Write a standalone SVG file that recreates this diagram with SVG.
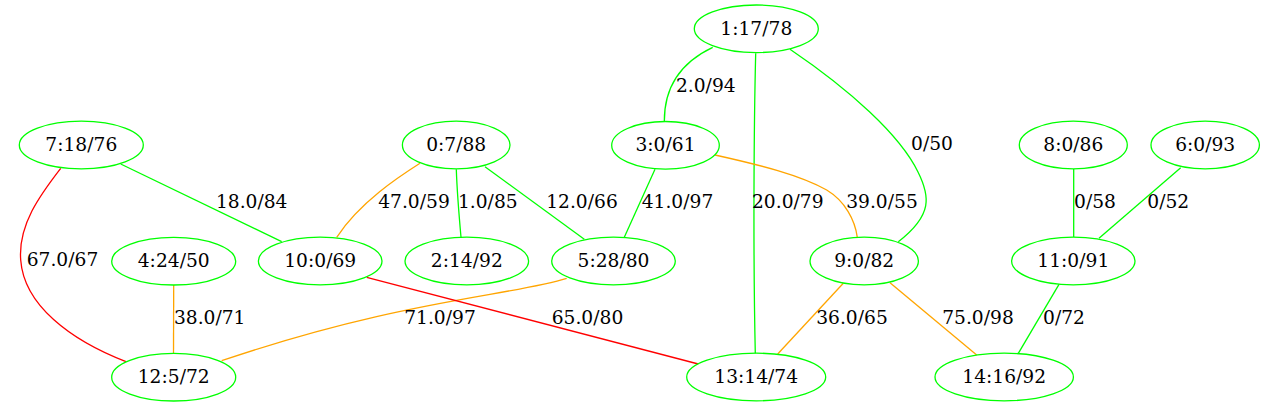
<svg xmlns="http://www.w3.org/2000/svg" width="1265" height="407" viewBox="0 0 1265 407">
<style>
text{font-family:"DejaVu Serif","Liberation Serif",serif;font-size:18.67px;fill:#000;text-anchor:middle}
.n ellipse{fill:none;stroke:#00ff00;stroke-width:1.3}
.e path{fill:none;stroke-width:1.3}
.g{stroke:#00ff00}.o{stroke:#ffa500}.r{stroke:#ff0000}
</style>
<rect width="1265" height="407" fill="#fff"/>
<g id="edges" class="e">
<path class="g" d="M712.7,47.3 C690,58 664,78 664.3,121.7"/>
<path class="g" d="M755.7,53.3 C754,120 753,250 755.3,353.3"/>
<path class="g" d="M790,49.3 C850,90 900,135 918,172 C930,196 933,215 898.3,241.7"/>
<path class="o" d="M715,155 C760,165 800,175 826.7,190 C845,201 855,220 857.3,237.3"/>
<path class="g" d="M655,169.3 L624.3,237.3"/>
<path class="o" d="M420,163.3 C400,176 360,202 336.7,237.3"/>
<path class="g" d="M456.3,169.3 C457,190 459,215 461,237.3"/>
<path class="g" d="M485,166.7 L584.3,239.3"/>
<path class="g" d="M120.7,164 L281.7,241.7"/>
<path class="r" d="M60.7,168.3 C40,195 18,225 20.7,260 C24,305 70,340 126,361.7"/>
<path class="o" d="M173.7,285 L173.5,353.3"/>
<path class="o" d="M566.7,278.3 C510,296 400,300 221.7,360.7"/>
<path class="r" d="M366.7,277.3 L698.3,364"/>
<path class="o" d="M843.3,283.3 L777.7,354"/>
<path class="o" d="M890,282.7 L976.7,355"/>
<path class="g" d="M1073.7,169 L1073.7,237"/>
<path class="g" d="M1180.7,167.7 L1099,238.3"/>
<path class="g" d="M1059,284.3 L1018.3,353.3"/>
<text x="705.8" y="92">2.0/94</text>
<text x="787.8" y="208">20.0/79</text>
<text x="932" y="150">0/50</text>
<text x="882" y="208">39.0/55</text>
<text x="677.5" y="208">41.0/97</text>
<text x="414" y="208">47.0/59</text>
<text x="487.8" y="208">1.0/85</text>
<text x="582" y="208">12.0/66</text>
<text x="251.7" y="208">18.0/84</text>
<text x="62.5" y="266">67.0/67</text>
<text x="209.7" y="324">38.0/71</text>
<text x="440" y="324">71.0/97</text>
<text x="587.5" y="324">65.0/80</text>
<text x="852" y="324">36.0/65</text>
<text x="978" y="324">75.0/98</text>
<text x="1095" y="208">0/58</text>
<text x="1168.3" y="208">0/52</text>
<text x="1064" y="324">0/72</text>
</g>
<g id="node1" class="n"><ellipse cx="756.3" cy="28.8" rx="62" ry="23.8"/><text x="756.3" y="35">1:17/78</text></g>
<g id="node3" class="n"><ellipse cx="665.5" cy="145.3" rx="53.8" ry="23.8"/><text x="665.5" y="151.3">3:0/61</text></g>
<g id="node7" class="n"><ellipse cx="81.3" cy="145" rx="62" ry="23.8"/><text x="81.3" y="151">7:18/76</text></g>
<g id="node0" class="n"><ellipse cx="456.2" cy="145" rx="53.8" ry="23.8"/><text x="456.2" y="151">0:7/88</text></g>
<g id="node8" class="n"><ellipse cx="1073.3" cy="145" rx="54" ry="23.8"/><text x="1073.3" y="151">8:0/86</text></g>
<g id="node6" class="n"><ellipse cx="1205.2" cy="145" rx="54.2" ry="23.8"/><text x="1205.2" y="151">6:0/93</text></g>
<g id="node4" class="n"><ellipse cx="173.7" cy="261.2" rx="62" ry="23.8"/><text x="173.7" y="267.2">4:24/50</text></g>
<g id="node10" class="n"><ellipse cx="320.2" cy="261" rx="61.8" ry="23.8"/><text x="320.2" y="267">10:0/69</text></g>
<g id="node2" class="n"><ellipse cx="466.8" cy="261" rx="61.8" ry="23.8"/><text x="466.8" y="267">2:14/92</text></g>
<g id="node5" class="n"><ellipse cx="613.5" cy="261" rx="61.8" ry="23.8"/><text x="613.5" y="267">5:28/80</text></g>
<g id="node9" class="n"><ellipse cx="864.2" cy="261" rx="54.2" ry="23.8"/><text x="864.2" y="267">9:0/82</text></g>
<g id="node11" class="n"><ellipse cx="1073.3" cy="261" rx="61.7" ry="23.8"/><text x="1073.3" y="267">11:0/91</text></g>
<g id="node12" class="n"><ellipse cx="173.7" cy="377.2" rx="62" ry="23.8"/><text x="173.7" y="383.2">12:5/72</text></g>
<g id="node13" class="n"><ellipse cx="756.2" cy="377" rx="69.5" ry="23.8"/><text x="756.2" y="383">13:14/74</text></g>
<g id="node14" class="n"><ellipse cx="1004.2" cy="377" rx="69.2" ry="23.8"/><text x="1004.2" y="383">14:16/92</text></g>
</svg>
